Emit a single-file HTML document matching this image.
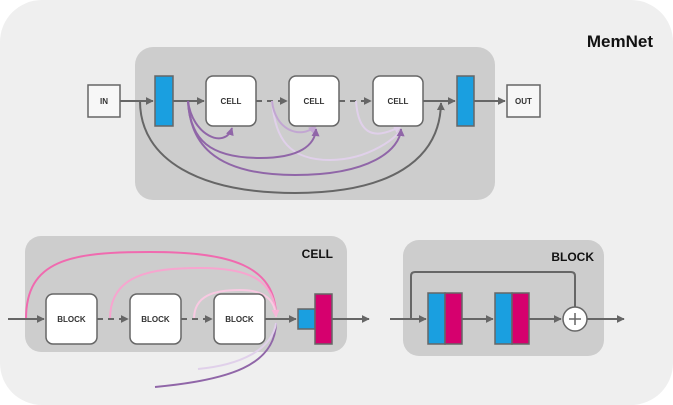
<!DOCTYPE html>
<html><head><meta charset="utf-8"><style>body{margin:0;background:#fff}svg{display:block}text{font-family:"Liberation Sans",sans-serif;font-weight:bold}</style></head><body>
<svg width="673" height="405" viewBox="0 0 673 405" xmlns="http://www.w3.org/2000/svg">
<defs>
<marker id="a" viewBox="0 0 10 10" refX="9" refY="5" markerWidth="4" markerHeight="4" orient="auto"><path d="M0,0L10,5L0,10z" fill="#666"/></marker>
<marker id="p1" viewBox="0 0 10 10" refX="9" refY="5" markerWidth="4" markerHeight="4" orient="auto"><path d="M0,0L10,5L0,10z" fill="#9066a8"/></marker>
<marker id="p2" viewBox="0 0 10 10" refX="9" refY="5" markerWidth="4" markerHeight="4" orient="auto"><path d="M0,0L10,5L0,10z" fill="#c2a6d2"/></marker>
<marker id="p3" viewBox="0 0 10 10" refX="9" refY="5" markerWidth="4" markerHeight="4" orient="auto"><path d="M0,0L10,5L0,10z" fill="#e0d0ea"/></marker>
<marker id="k" viewBox="0 0 10 10" refX="9" refY="5" markerWidth="4" markerHeight="4" orient="auto"><path d="M0,0L10,5L0,10z" fill="#f7b5d8"/></marker>
</defs>
<rect x="0" y="0" width="673" height="405" rx="42" fill="#efefef"/>
<rect x="135" y="47" width="360" height="153" rx="18" fill="#cdcdcd"/>
<text x="653" y="47" font-size="17" text-anchor="end" fill="#111">MemNet</text>
<g stroke="#666" stroke-width="2" fill="none">
<line x1="120" y1="101" x2="153" y2="101" marker-end="url(#a)"/>
<line x1="173" y1="101" x2="204" y2="101" marker-end="url(#a)"/>
<line x1="256" y1="101" x2="287" y2="101" stroke-dasharray="6,5" marker-end="url(#a)"/>
<line x1="339" y1="101" x2="371" y2="101" stroke-dasharray="6,5" marker-end="url(#a)"/>
<line x1="423" y1="101" x2="455" y2="101" marker-end="url(#a)"/>
<line x1="474" y1="101" x2="505" y2="101" marker-end="url(#a)"/>
<path d="M140,101 C140,160 200,193 295,193 C390,193 440,160 441,103" marker-end="url(#a)"/>
</g>
<g fill="none" stroke-width="2">
<path d="M272,101 C275,140 290,160 330,160 C370,160 400,135 401,129" stroke="#e0d0ea" marker-end="url(#p3)"/>
<path d="M356,101 C358,130 370,143 401,126" stroke="#e0d0ea" marker-end="url(#p3)"/>
<path d="M272,101 C275,130 300,140 316,126" stroke="#c2a6d2" marker-end="url(#p2)"/>
<path d="M188,101 C190,140 210,175 295,175 C370,175 400,150 401,129" stroke="#9066a8" marker-end="url(#p1)"/>
<path d="M188,101 C190,140 210,158 260,158 C300,158 315,145 316,129" stroke="#9066a8" marker-end="url(#p1)"/>
<path d="M188,101 C192,135 225,150 232,128" stroke="#9066a8" marker-end="url(#p1)"/>
</g>
<rect x="88" y="85" width="32" height="32" fill="#f7f7f7" stroke="#666" stroke-width="1.5"/>
<text x="104" y="104" font-size="8" text-anchor="middle" fill="#333">IN</text>
<rect x="507" y="85" width="33" height="32" fill="#f7f7f7" stroke="#666" stroke-width="1.5"/>
<text x="523.5" y="104" font-size="8" text-anchor="middle" fill="#333">OUT</text>
<rect x="155" y="76" width="18" height="50" fill="#1a9fe0" stroke="#666" stroke-width="1.5"/>
<rect x="457" y="76" width="17" height="50" fill="#1a9fe0" stroke="#666" stroke-width="1.5"/>
<g stroke="#666" stroke-width="1.5" fill="#fff">
<rect x="206" y="76" width="50" height="50" rx="7"/><rect x="289" y="76" width="50" height="50" rx="7"/><rect x="373" y="76" width="50" height="50" rx="7"/>
</g>
<g font-size="8" text-anchor="middle" fill="#333"><text x="231" y="104">CELL</text><text x="314" y="104">CELL</text><text x="398" y="104">CELL</text></g>

<rect x="25" y="236" width="322" height="116" rx="16" fill="#cdcdcd"/>
<text x="333" y="258" font-size="12" text-anchor="end" fill="#111">CELL</text>
<g fill="none" stroke-width="2">
<path d="M155,387 C230,380 275,365 276,323" stroke="#9066a8"/>
<path d="M198,369 C240,365 272,350 276,323" stroke="#e0d0ea"/>
<path d="M26,319 C26,260 70,252 150,252 C230,252 276,265 276,317" stroke="#f06aaf"/>
<path d="M110,319 C110,275 150,268 200,268 C250,268 275,280 276,317" stroke="#f7a5cf"/>
<path d="M194,319 C194,295 215,290 240,290 C265,290 275,300 276,317" stroke="#f9c9e2" marker-end="url(#k)"/>
</g>
<g stroke="#666" stroke-width="2" fill="none">
<line x1="8" y1="319" x2="44" y2="319" marker-end="url(#a)"/>
<line x1="97" y1="319" x2="128" y2="319" stroke-dasharray="6,5" marker-end="url(#a)"/>
<line x1="181" y1="319" x2="212" y2="319" stroke-dasharray="6,5" marker-end="url(#a)"/>
<line x1="265" y1="319" x2="296" y2="319" marker-end="url(#a)"/>
<line x1="331" y1="319" x2="369" y2="319" marker-end="url(#a)"/>
</g>
<g stroke="#666" stroke-width="1.5" fill="#fff">
<rect x="46" y="294" width="51" height="50" rx="7"/><rect x="130" y="294" width="51" height="50" rx="7"/><rect x="214" y="294" width="51" height="50" rx="7"/>
</g>
<g font-size="8" text-anchor="middle" fill="#333"><text x="71.5" y="322">BLOCK</text><text x="155.5" y="322">BLOCK</text><text x="239.5" y="322">BLOCK</text></g>
<rect x="298" y="309" width="17" height="20" fill="#1a9fe0" stroke="#666" stroke-width="1.5"/>
<rect x="315" y="294" width="17" height="50" fill="#d6006e" stroke="#666" stroke-width="1.5"/>

<rect x="403" y="240" width="201" height="116" rx="16" fill="#cdcdcd"/>
<text x="594" y="261" font-size="12" text-anchor="end" fill="#111">BLOCK</text>
<g stroke="#666" stroke-width="2" fill="none">
<path d="M411,319 V276 Q411,272 415,272 H571 Q575,272 575,276 V307"/>
<line x1="390" y1="319" x2="426" y2="319" marker-end="url(#a)"/>
<line x1="462" y1="319" x2="493" y2="319" marker-end="url(#a)"/>
<line x1="529" y1="319" x2="561" y2="319" marker-end="url(#a)"/>
<line x1="587" y1="319" x2="624" y2="319" marker-end="url(#a)"/>
</g>
<g stroke="#666" stroke-width="1.5">
<rect x="428" y="293" width="17" height="51" fill="#1a9fe0"/><rect x="445" y="293" width="17" height="51" fill="#d6006e"/>
<rect x="495" y="293" width="17" height="51" fill="#1a9fe0"/><rect x="512" y="293" width="17" height="51" fill="#d6006e"/>
<circle cx="575" cy="319" r="12" fill="#fff"/>
<path d="M569,319H581M575,313V325" fill="none"/>
</g>
</svg>
</body></html>
